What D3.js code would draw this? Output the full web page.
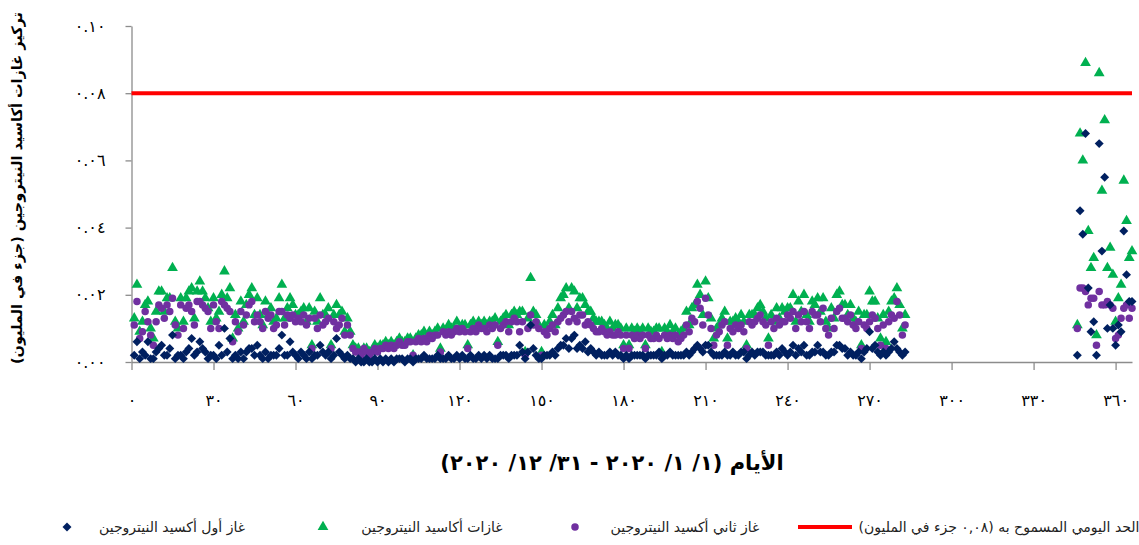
<!DOCTYPE html>
<html lang="ar">
<head>
<meta charset="utf-8">
<script src="https://cdn.jsdelivr.net/npm/d3@7"></script>
<style>
  body { margin: 0; background: #fff; }
  svg text { font-family: 'DejaVu Sans', sans-serif; }
</style>
</head>
<body>
<div id="chart"></div>
<script>
'use strict';

// daily means in ppm, index 0 = day 1 (1/1/2020), null = no reading
const no2 = [
  .011,.018,.007,.009,.015,.012,.008,.005,.012,.017,
  .016,.013,.017,.015,.019,.011,.008,.017,.010,.016,
  .017,.015,.011,.018,.018,.017,.016,.015,.010,.017,
  .012,.010,.018,.017,.016,.015,.006,.012,.009,.015,
  .011,.014,.017,.018,.012,.014,.012,.010,.015,.013,
  .014,.010,.011,.015,.015,.011,.014,.013,.014,.012,
  .013,.012,.014,.011,.013,.004,.013,.010,.014,.011,
  .012,.013,.004,.012,.010,.011,.013,.008,.011,.008,
  .004,.003,.003,.002,.004,.003,.002,.003,.004,.003,
  .004,.004,.005,.004,.005,.004,.005,.006,.005,.005,
  .006,.006,.002,.006,.007,.006,.007,.006,.008,.007,
  .008,.008,.003,.009,.008,.009,.008,.009,.010,.009,
  .010,.009,.004,.009,.010,.009,.011,.010,.010,.009,
  .011,.010,.011,.005,.010,.011,.012,.009,.012,.013,
  .012,.009,.012,.002,.010,.014,.011,.012,.010,.002,
  .009,.008,.010,.011,.009,.012,.013,.014,.015,.012,
  .015,.013,.012,.014,.014,.011,.012,.011,.010,.009,
  .009,.010,.009,.008,.009,.008,.008,.009,.008,.004,
  .008,.004,.008,.007,.008,.007,.008,.004,.008,.007,
  .007,.008,.007,.002,.008,.007,.008,.007,.008,.006,
  .007,.008,.011,.009,.013,.012,.018,.016,.011,.019,
  .014,.010,.005,.008,.009,.011,.012,.005,.010,.009,
  .011,.010,.011,.009,.004,.012,.011,.012,.013,.014,
  .012,.011,.005,.012,.010,.013,.011,.012,.012,.014,
  .013,.015,.010,.014,.012,.015,.012,.010,.015,.014,
  .014,.012,.016,.010,.008,.013,.010,.015,.016,.013,
  .013,.012,.014,.011,.010,.012,.004,.011,.010,.012,
  .014,.013,.010,.005,.011,.004,.012,.014,.013,.018,
  .014,.008,.011,
  null,null,null,null,null,null,null,null,null,null,
  null,null,null,null,null,null,null,null,null,null,
  null,null,null,null,null,null,null,null,null,null,
  null,null,null,null,null,null,null,null,null,null,
  null,null,null,null,null,null,null,null,null,null,
  null,null,null,null,null,null,null,null,null,null,
  null,null,
  .010,.022,.022,.021,.017,.019,.019,.005,.021,.017,
  .017,.018,.017,.016,.007,.008,.013,.016,.017,.013,
  .016
];

const no = [
  .002,.006,.001,.003,.002,.006,.001,.001,.003,.004,
  .005,.002,.002,.004,.008,.001,.002,.002,.001,.003,
  .004,.007,.002,.003,.006,.004,.003,.001,.002,.002,
  .001,.005,.002,.010,.003,.007,.001,.002,.001,.003,
  .001,.003,.004,.004,.002,.005,.002,.001,.003,.001,
  .002,.002,.002,.004,.008,.002,.002,.006,.003,.002,
  .001,.003,.002,.001,.003,.001,.002,.002,.005,.003,
  .002,.003,.001,.002,.007,.003,.002,.001,.002,.001,
  .001,.000,.001,.000,.000,.001,.000,.000,.001,.000,
  .001,.000,.001,.000,.001,.000,.001,.001,.001,.000,
  .001,.001,.000,.001,.001,.001,.002,.001,.001,.001,
  .001,.002,.001,.001,.001,.002,.001,.001,.002,.001,
  .002,.001,.001,.002,.001,.001,.002,.001,.002,.001,
  .002,.001,.001,.001,.002,.002,.002,.001,.002,.002,
  .002,.005,.003,.001,.003,.011,.004,.002,.001,.001,
  .002,.002,.002,.003,.002,.004,.005,.005,.007,.004,
  .007,.008,.004,.005,.004,.006,.003,.004,.003,.002,
  .003,.002,.002,.002,.003,.002,.003,.002,.002,.001,
  .002,.001,.002,.002,.002,.002,.002,.001,.002,.002,
  .002,.002,.003,.001,.002,.002,.003,.002,.002,.002,
  .002,.002,.003,.002,.003,.004,.005,.004,.003,.005,
  .005,.003,.002,.002,.002,.002,.003,.002,.002,.003,
  .002,.002,.003,.003,.001,.002,.003,.002,.003,.003,
  .003,.002,.002,.002,.002,.003,.002,.004,.003,.002,
  .003,.005,.002,.004,.003,.005,.002,.002,.003,.003,
  .005,.003,.003,.002,.002,.003,.003,.005,.005,.004,
  .004,.002,.003,.002,.002,.003,.001,.003,.004,.009,
  .004,.005,.003,.002,.003,.002,.003,.004,.006,.004,
  .003,.002,.003,
  null,null,null,null,null,null,null,null,null,null,
  null,null,null,null,null,null,null,null,null,null,
  null,null,null,null,null,null,null,null,null,null,
  null,null,null,null,null,null,null,null,null,null,
  null,null,null,null,null,null,null,null,null,null,
  null,null,null,null,null,null,null,null,null,null,
  null,null,
  .002,.045,.038,.068,.022,.009,.012,.002,.065,.033,
  .055,.010,.017,.010,.005,.011,.009,.039,.026,.018,
  .018
];

const nox = [
  .013,.023,.009,.012,.017,.018,.010,.007,.015,.021,
  .021,.015,.019,.019,.028,.012,.010,.019,.012,.019,
  .021,.022,.013,.021,.024,.021,.019,.016,.012,.019,
  .013,.015,.020,.027,.019,.022,.007,.014,.010,.018,
  .012,.017,.020,.022,.014,.019,.014,.011,.018,.014,
  .016,.012,.013,.019,.023,.013,.016,.019,.017,.014,
  .014,.015,.016,.012,.016,.005,.015,.012,.019,.014,
  .014,.016,.005,.014,.017,.014,.015,.009,.013,.009,
  .005,.004,.004,.003,.004,.004,.003,.003,.005,.004,
  .005,.005,.006,.005,.006,.005,.006,.007,.006,.006,
  .007,.007,.002,.007,.008,.008,.009,.007,.009,.008,
  .009,.010,.004,.010,.009,.011,.010,.010,.012,.010,
  .011,.011,.005,.011,.012,.010,.012,.011,.012,.011,
  .012,.012,.013,.006,.012,.013,.014,.011,.014,.015,
  .014,.015,.015,.003,.013,.025,.015,.014,.011,.003,
  .011,.010,.012,.014,.011,.016,.019,.020,.022,.016,
  .022,.021,.016,.019,.019,.017,.015,.015,.013,.012,
  .012,.012,.011,.010,.012,.010,.011,.011,.010,.005,
  .010,.005,.010,.009,.010,.009,.010,.005,.010,.009,
  .009,.010,.010,.003,.010,.009,.011,.009,.010,.008,
  .009,.010,.015,.011,.016,.017,.023,.020,.014,.024,
  .019,.013,.007,.010,.011,.013,.015,.007,.012,.012,
  .013,.012,.014,.012,.005,.014,.014,.014,.016,.017,
  .015,.013,.007,.014,.012,.016,.013,.016,.015,.016,
  .016,.020,.012,.018,.015,.020,.014,.012,.018,.017,
  .019,.015,.019,.012,.010,.016,.013,.020,.021,.017,
  .017,.014,.017,.013,.012,.015,.005,.014,.014,.021,
  .018,.018,.013,.007,.014,.006,.015,.018,.019,.022,
  .017,.010,.014,
  null,null,null,null,null,null,null,null,null,null,
  null,null,null,null,null,null,null,null,null,null,
  null,null,null,null,null,null,null,null,null,null,
  null,null,null,null,null,null,null,null,null,null,
  null,null,null,null,null,null,null,null,null,null,
  null,null,null,null,null,null,null,null,null,null,
  null,null,
  .011,.068,.060,.089,.039,.028,.031,.008,.086,.051,
  .072,.028,.034,.026,.012,.019,.023,.054,.042,.031,
  .033
];

const dailyLimit = 0.08;
const xTicks = [0, 30, 60, 90, 120, 150, 180, 210, 240, 270, 300, 330, 360];
const yTicks = [0, 0.02, 0.04, 0.06, 0.08, 0.10];

const xTitle = 'الأيام (١/ ١/ ٢٠٢٠ - ٣١/ ١٢/ ٢٠٢٠)';
const yTitle = 'تركيز غازات أكاسيد النيتروجين (جزء في المليون)';
const legendLabels = {
  no: 'غاز أول أكسيد النيتروجين',
  nox: 'غازات أكاسيد النيتروجين',
  no2: 'غاز ثاني أكسيد النيتروجين',
  limit: 'الحد اليومي المسموح به (٠,٠٨  جزء في المليون)'
};

const width = 1139, height = 545;
const navy = '#002060', green = '#00b050', purple = '#7030a0', red = '#ff0000';
const axisGrey = '#8c8c8c';

const arabicDigits = '٠١٢٣٤٥٦٧٨٩';
const toArabic = s => String(s).replace(/\d/g, d => arabicDigits[d]);

const svg = d3.select('#chart').append('svg')
    .attr('width', width)
    .attr('height', height)
    .style('background', '#fff');

const x = d3.scaleLinear().domain([0, 366]).range([131.5, 1132]);
const y = d3.scaleLinear().domain([0, 0.10]).range([362, 26]);

// axes ---------------------
const yAxis = svg.append('g')
    .attr('transform', `translate(${x(0)},0)`)
    .call(d3.axisLeft(y).tickValues(yTicks).tickSize(6).tickSizeOuter(0).tickPadding(20)
        .tickFormat(d => toArabic(d3.format('.2f')(d))));

const xAxis = svg.append('g')
    .attr('transform', `translate(0,${y(0)})`)
    .call(d3.axisBottom(x).tickValues(xTicks).tickSize(8).tickSizeOuter(0).tickPadding(25)
        .tickFormat(d => toArabic(d)));

[yAxis, xAxis].forEach(g => {
    g.select('.domain').attr('stroke', axisGrey).attr('stroke-width', 1.3);
    g.selectAll('.tick line').attr('stroke', axisGrey).attr('stroke-width', 1.3);
    g.selectAll('.tick text').attr('fill', '#000').attr('font-size', 16)
        .attr('letter-spacing', 3)
        .attr('font-family', 'DejaVu Sans, sans-serif');
});

// series ---------------------
const points = arr => arr.map((v, i) => ({day: i + 1, v: v})).filter(d => d.v !== null);

const triangle = d3.symbol().type(d3.symbolTriangle).size(50);
const circle = d3.symbol().type(d3.symbolCircle).size(44);
const diamond = d3.symbol().type(d3.symbolSquare).size(40);

svg.append('g').selectAll('path')
    .data(points(nox))
    .join('path')
    .attr('d', triangle)
    .attr('transform', d => `translate(${x(d.day)},${y(d.v)})`)
    .attr('fill', green);

svg.append('g').selectAll('path')
    .data(points(no2))
    .join('path')
    .attr('d', circle)
    .attr('transform', d => `translate(${x(d.day)},${y(d.v)})`)
    .attr('fill', purple);

svg.append('g').selectAll('path')
    .data(points(no))
    .join('path')
    .attr('d', diamond)
    .attr('transform', d => `translate(${x(d.day)},${y(d.v)}) rotate(45)`)
    .attr('fill', navy);

// daily limit line
svg.append('line')
    .attr('x1', x(0)).attr('x2', x(366))
    .attr('y1', y(dailyLimit)).attr('y2', y(dailyLimit))
    .attr('stroke', red).attr('stroke-width', 4);

// titles ---------------------
svg.append('text')
    .attr('transform', 'translate(17,188) rotate(-90)')
    .attr('direction', 'rtl')
    .attr('text-anchor', 'middle')
    .attr('dominant-baseline', 'central')
    .attr('font-size', 14.5).attr('font-weight', 'bold')
    .text(yTitle);

svg.append('text')
    .attr('x', 612).attr('y', 463)
    .attr('direction', 'rtl')
    .attr('text-anchor', 'middle')
    .attr('dominant-baseline', 'central')
    .attr('font-size', 21).attr('font-weight', 'bold')
    .text(xTitle);

// legend ---------------------
const legendY = 527;
const legend = svg.append('g');

legend.append('path').attr('d', diamond)
    .attr('transform', `translate(67,${legendY}) rotate(45)`).attr('fill', navy);
legend.append('path').attr('d', triangle)
    .attr('transform', `translate(323,${legendY})`).attr('fill', green);
legend.append('path').attr('d', circle)
    .attr('transform', `translate(575,${legendY})`).attr('fill', purple);
legend.append('line')
    .attr('x1', 798).attr('x2', 852).attr('y1', legendY).attr('y2', legendY)
    .attr('stroke', red).attr('stroke-width', 4);

[[172, legendLabels.no], [432, legendLabels.nox], [685, legendLabels.no2], [999, legendLabels.limit]]
    .forEach(([cx, label]) => {
        legend.append('text')
            .attr('x', cx).attr('y', legendY)
            .attr('direction', 'rtl')
            .attr('text-anchor', 'middle')
            .attr('dominant-baseline', 'central')
            .attr('font-size', 14).attr('fill', '#222')
            .text(label);
    });
</script>
</body>
</html>
